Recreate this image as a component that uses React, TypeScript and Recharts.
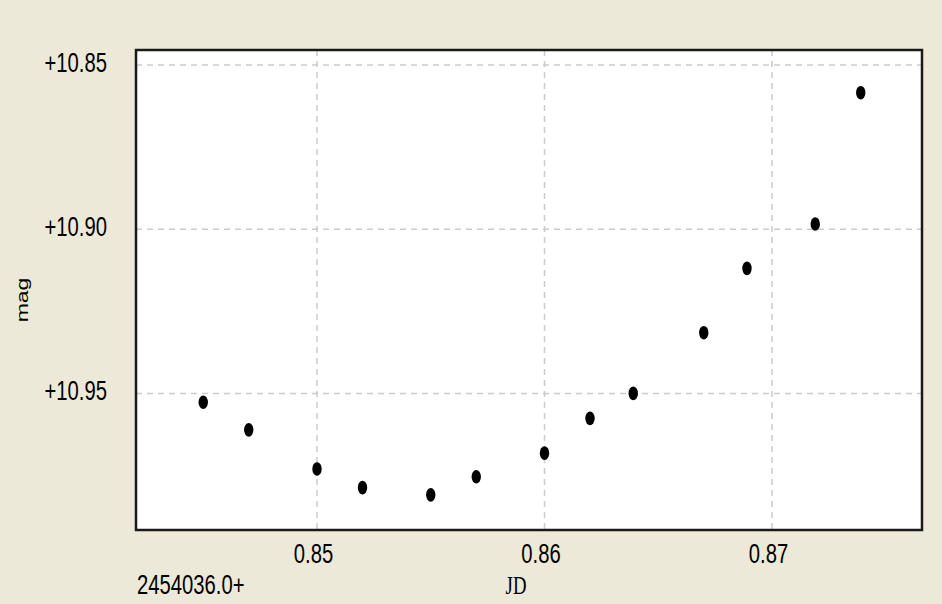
import React from 'react';
import { ScatterChart, Scatter, XAxis, YAxis, CartesianGrid, ReferenceArea } from 'recharts';

// JD offsets (from 2454036.0) and magnitudes
const jdValues = [0.845, 0.847, 0.85, 0.852, 0.855, 0.857, 0.86, 0.862, 0.8639, 0.867, 0.8689, 0.8719, 0.8739];
const magValues = [10.9527, 10.9611, 10.973, 10.9787, 10.9809, 10.9754, 10.9682, 10.9576, 10.95, 10.9315, 10.9119, 10.8984, 10.8584];
const xTicks = [0.85, 0.86, 0.87];
const yTicks = [10.85, 10.9, 10.95];
const xDomain = [0.842044, 0.876593];
const yDomain = [10.8454, 10.9916];
const xOffsetLabel = '2454036.0+';
const xAxisLabel = 'JD';
const yAxisLabel = 'mag';

const data = jdValues.map((x, i) => ({ x, y: magValues[i] }));

const FONT = '"Liberation Sans", Arial, sans-serif';
const SX = 0.75;

const XTick = (props: any) => {
  const { x, y, payload } = props;
  return (
    <text
      transform={`translate(${x - 3.5},${y + 20}) scale(${SX},1)`}
      textAnchor="middle"
      fontFamily={FONT}
      fontSize={27}
      fill="#000"
    >
      {payload.value.toFixed(2)}
    </text>
  );
};

const YTick = (props: any) => {
  const { x, y, payload } = props;
  return (
    <text
      transform={`translate(${x},${y + 6.5}) scale(${SX},1)`}
      textAnchor="end"
      fontFamily={FONT}
      fontSize={27}
      fill="#000"
    >
      {'+' + payload.value.toFixed(2)}
    </text>
  );
};

const Dot = (props: any) => {
  const { cx, cy } = props;
  return <ellipse cx={cx} cy={cy} rx={4.7} ry={6.8} fill="#000" />;
};

export default function App() {
  return (
    <div
      style={{
        position: 'absolute',
        left: 0,
        top: 0,
        width: 942,
        height: 604,
        background: '#ECE9D8',
        overflow: 'hidden',
      }}
    >
      <ScatterChart width={942} height={604} margin={{ top: 50, right: 20, bottom: 44, left: 0 }}>
        <CartesianGrid
          fill="#ffffff"
          stroke="#cbcbcb"
          strokeDasharray="6 5"
          strokeWidth={1.5}
        />
        <XAxis
          dataKey="x"
          type="number"
          domain={xDomain}
          ticks={xTicks}
          allowDataOverflow
          axisLine={false}
          tickLine={false}
          tickSize={0}
          tickMargin={13}
          height={30}
          tick={<XTick />}
        />
        <YAxis
          dataKey="y"
          type="number"
          domain={yDomain}
          ticks={yTicks}
          reversed
          allowDataOverflow
          axisLine={false}
          tickLine={false}
          tickSize={0}
          tickMargin={29}
          width={136}
          tick={<YTick />}
        />
        <Scatter data={data} shape={<Dot />} isAnimationActive={false} />
        <ReferenceArea
          x1={xDomain[0]}
          x2={xDomain[1]}
          y1={yDomain[0]}
          y2={yDomain[1]}
          fill="none"
          fillOpacity={0}
          stroke="#1a1a1a"
          strokeWidth={2.5}
          ifOverflow="visible"
        />
        <text
          transform={`translate(137,594) scale(${SX},1)`}
          fontFamily={FONT}
          fontSize={27}
          fill="#000"
        >
          {xOffsetLabel}
        </text>
        <text
          transform={`translate(516,594) scale(${SX},1)`}
          textAnchor="middle"
          fontFamily='"Liberation Serif", "DejaVu Serif", serif'
          fontSize={25}
          fill="#000"
        >
          {xAxisLabel}
        </text>
        <text
          transform="translate(28,300) rotate(-90) scale(1,0.75)"
          textAnchor="middle"
          fontFamily={FONT}
          fontSize={23}
          fill="#000"
        >
          {yAxisLabel}
        </text>
      </ScatterChart>
    </div>
  );
}
